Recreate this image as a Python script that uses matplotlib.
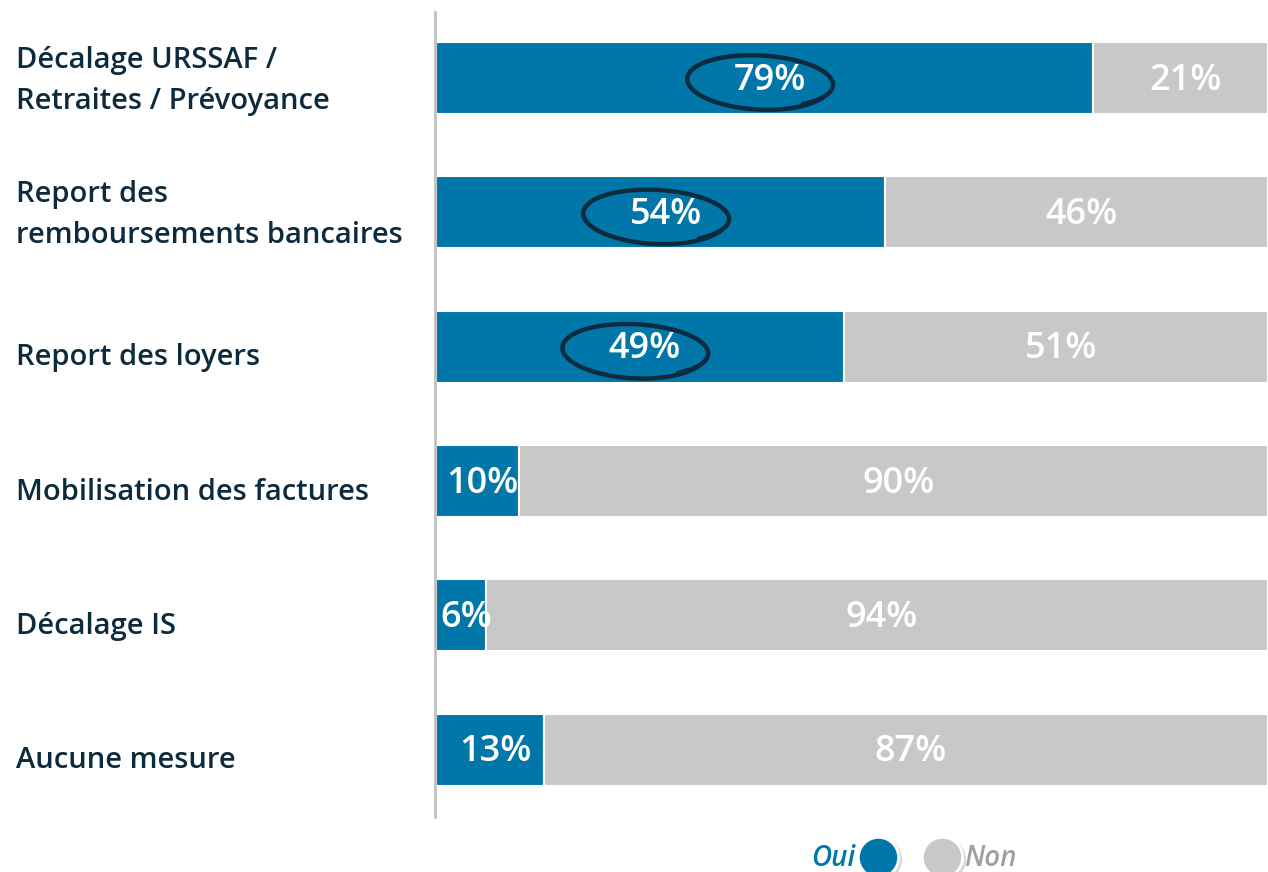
import numpy as np
import matplotlib.pyplot as plt
from matplotlib.lines import Line2D

categories = ["Décalage URSSAF /\nRetraites / Prévoyance",
              "Report des\nremboursements bancaires",
              "Report des loyers",
              "Mobilisation des factures",
              "Décalage IS",
              "Aucune mesure"]
oui = [79, 54, 49, 10, 6, 13]
non = [21, 46, 51, 90, 94, 87]
circled = [True, True, True, False, False, False]

BLUE = '#0077a8'
GREY = '#c8c8c8'
NAVY = '#0d2b3e'

plt.rcParams['font.family'] = ['Open Sans', 'DejaVu Sans']

fig = plt.figure(figsize=(12.68, 8.72), dpi=100)
ax = fig.add_axes([436 / 1268, 55 / 872, 832 / 1268, 805 / 872])

y = np.arange(len(categories))
ax.barh(y, oui, height=0.535, color=BLUE, edgecolor='white', linewidth=1.5)
ax.barh(y, non, left=oui, height=0.535, color=GREY, edgecolor='white', linewidth=1.5)

for i in range(len(categories)):
    xo = oui[i] / 2
    xn = oui[i] + non[i] / 2
    ax.text(xo + 0.6, y[i] + 0.02, f"{oui[i]}%", color='white', fontsize=26,
            fontweight='semibold', ha='center', va='center')
    ax.text(xn + 0.6, y[i] + 0.02, f"{non[i]}%", color='white', fontsize=26,
            fontweight='semibold', ha='center', va='center')
    if circled[i]:
        # hand-drawn style loop around the label
        t = np.linspace(0.15 * np.pi, 2.3 * np.pi, 200)
        cx = xo - 0.6
        rx = 8.6 * (1 + 0.03 * (t - t[0]) / (t[-1] - t[0]))
        ry = 0.21 * (1 - 0.1 * (t - t[0]) / (t[-1] - t[0]))
        ax.plot(cx + rx * np.cos(t), y[i] + 0.03 + ry * np.sin(t) + 0.02 * np.cos(t),
                color=NAVY, lw=3.2, solid_capstyle='round')

ax.set_xlim(0, 100)
ax.set_ylim(5.5, -0.49)
ax.set_xticks([])
ax.set_yticks([])
for s in ['top', 'right', 'bottom']:
    ax.spines[s].set_visible(False)
ax.spines['left'].set_color('#c0c0c0')
ax.spines['left'].set_linewidth(2)
ax.spines['left'].set_position(('outward', 1))

for i, c in enumerate(categories):
    shift = 3 if '\n' in c else 11
    yy = ax.transData.transform((0, y[i]))[1] - shift
    fig.text(16 / 1268, yy / 872, c, fontsize=21, color=NAVY, fontweight='semibold',
             ha='left', va='center', linespacing=1.56, transform=fig.transFigure)

# legend
fig.text(855 / 1268, 14 / 872, "Oui", color=BLUE, fontsize=20, fontweight='semibold',
         style='italic', ha='right', va='center')
fig.text(964 / 1268, 14 / 872, "Non", color='#a0a0a0', fontsize=20, fontweight='semibold',
         style='italic', ha='left', va='center')
for xc, col in [(878, BLUE), (942, GREY)]:
    fig.add_artist(Line2D([(xc + 2) / 1268], [13 / 872], marker='o', markersize=31,
                          color='#d8d8d8', markeredgecolor='none', transform=fig.transFigure))
    fig.add_artist(Line2D([xc / 1268], [15 / 872], marker='o', markersize=29,
                          color=col, markeredgecolor='white', markeredgewidth=2,
                          transform=fig.transFigure))

fig.savefig('out.png', dpi=100)
